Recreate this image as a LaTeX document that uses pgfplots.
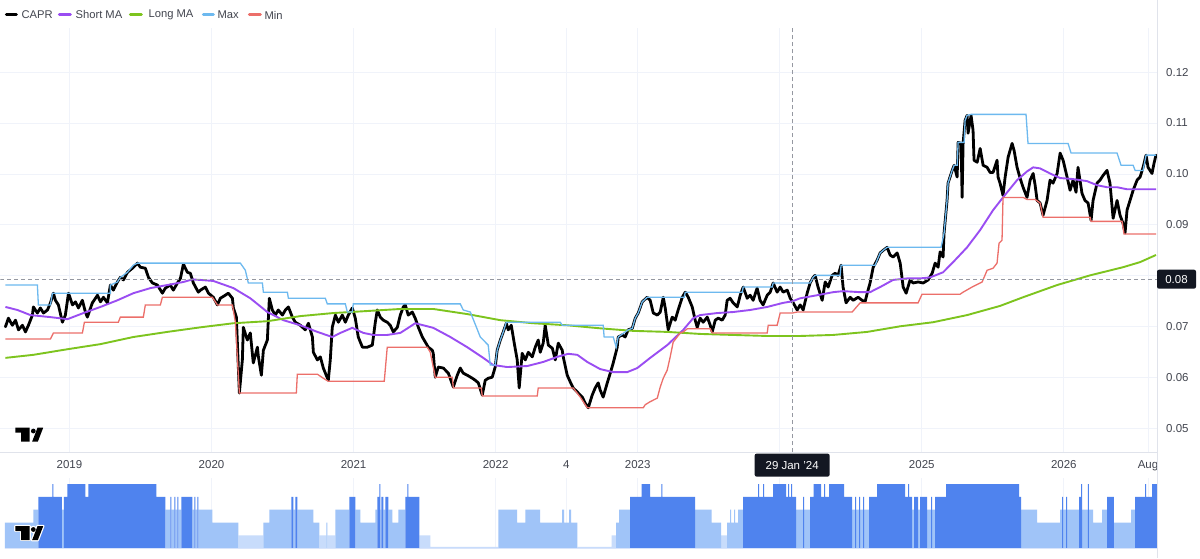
\documentclass[border=0pt]{standalone}
\usepackage{fontspec}
\setmainfont{Liberation Sans}
\usepackage{pgfplots}
\pgfplotsset{compat=1.18}
\usepackage{pgfplotstable}

\definecolor{capr}{HTML}{000000}
\definecolor{shortma}{HTML}{9A4DF2}
\definecolor{longma}{HTML}{7DC41E}
\definecolor{maxc}{HTML}{6DB9EF}
\definecolor{minc}{HTML}{EC6F6A}
\definecolor{gridc}{HTML}{F0F3FA}
\definecolor{borderc}{HTML}{E0E3EB}
\definecolor{txt}{HTML}{42454F}
\definecolor{legtxt}{HTML}{42454F}
\definecolor{barD}{HTML}{4F83EE}
\definecolor{barL}{HTML}{A0C4F8}
\definecolor{barW}{HTML}{C8DCFB}
\definecolor{tvdark}{HTML}{131722}
\definecolor{crossc}{HTML}{9598A1}

\pgfplotstableread{
x y
2018.549 0.0700
2018.570 0.0717
2018.598 0.0703
2018.620 0.0713
2018.641 0.0694
2018.669 0.0703
2018.690 0.0690
2018.711 0.0703
2018.739 0.0723
2018.746 0.0739
2018.774 0.0727
2018.795 0.0737
2018.817 0.0727
2018.845 0.0733
2018.866 0.0747
2018.887 0.0766
2018.901 0.0752
2018.922 0.0743
2018.950 0.0709
2018.971 0.0723
2018.993 0.0766
2019.021 0.0743
2019.042 0.0749
2019.063 0.0737
2019.091 0.0752
2019.112 0.0729
2019.126 0.0719
2019.161 0.0747
2019.197 0.0762
2019.218 0.0749
2019.239 0.0758
2019.267 0.0747
2019.288 0.0782
2019.309 0.0772
2019.337 0.0788
2019.358 0.0797
2019.380 0.0792
2019.408 0.0807
2019.443 0.0815
2019.478 0.0825
2019.499 0.0817
2019.534 0.0815
2019.556 0.0797
2019.584 0.0786
2019.619 0.0782
2019.654 0.0766
2019.675 0.0776
2019.710 0.0782
2019.731 0.0772
2019.760 0.0786
2019.781 0.0795
2019.802 0.0823
2019.830 0.0807
2019.851 0.0805
2019.872 0.0786
2019.907 0.0768
2019.922 0.0772
2019.957 0.0778
2019.978 0.0766
2020.013 0.0758
2020.041 0.0743
2020.062 0.0756
2020.097 0.0762
2020.118 0.0766
2020.147 0.0756
2020.154 0.0737
2020.175 0.0719
2020.182 0.0668
2020.196 0.0570
2020.217 0.0635
2020.224 0.0699
2020.252 0.0674
2020.273 0.0688
2020.294 0.0629
2020.323 0.0660
2020.330 0.0641
2020.351 0.0605
2020.365 0.0654
2020.393 0.0674
2020.407 0.0756
2020.428 0.0733
2020.449 0.0723
2020.470 0.0733
2020.499 0.0723
2020.520 0.0733
2020.541 0.0739
2020.569 0.0719
2020.590 0.0709
2020.625 0.0703
2020.660 0.0694
2020.682 0.0707
2020.710 0.0680
2020.717 0.0650
2020.745 0.0635
2020.766 0.0641
2020.787 0.0619
2020.822 0.0595
2020.836 0.0635
2020.850 0.0699
2020.872 0.0723
2020.893 0.0709
2020.921 0.0723
2020.942 0.0709
2020.963 0.0723
2020.991 0.0737
2021.012 0.0717
2021.033 0.0680
2021.062 0.0660
2021.097 0.0660
2021.132 0.0664
2021.153 0.0709
2021.167 0.0733
2021.188 0.0719
2021.209 0.0713
2021.237 0.0709
2021.258 0.0703
2021.280 0.0690
2021.308 0.0699
2021.329 0.0723
2021.350 0.0739
2021.364 0.0743
2021.385 0.0723
2021.413 0.0729
2021.434 0.0717
2021.456 0.0699
2021.484 0.0680
2021.505 0.0670
2021.526 0.0660
2021.554 0.0654
2021.561 0.0648
2021.575 0.0601
2021.596 0.0621
2021.632 0.0619
2021.667 0.0609
2021.702 0.0582
2021.730 0.0605
2021.751 0.0619
2021.772 0.0609
2021.800 0.0605
2021.836 0.0599
2021.857 0.0595
2021.878 0.0590
2021.906 0.0566
2021.927 0.0595
2021.948 0.0599
2021.976 0.0601
2021.997 0.0621
2022.011 0.0654
2022.033 0.0674
2022.054 0.0690
2022.075 0.0707
2022.089 0.0694
2022.110 0.0703
2022.131 0.0668
2022.152 0.0635
2022.166 0.0580
2022.187 0.0648
2022.209 0.0635
2022.230 0.0650
2022.258 0.0641
2022.279 0.0660
2022.300 0.0674
2022.314 0.0650
2022.335 0.0668
2022.349 0.0703
2022.371 0.0664
2022.399 0.0658
2022.420 0.0635
2022.441 0.0668
2022.469 0.0654
2022.476 0.0641
2022.504 0.0605
2022.525 0.0592
2022.546 0.0580
2022.575 0.0572
2022.610 0.0562
2022.631 0.0550
2022.652 0.0541
2022.680 0.0566
2022.701 0.0580
2022.722 0.0590
2022.736 0.0576
2022.757 0.0562
2022.786 0.0590
2022.807 0.0609
2022.828 0.0629
2022.856 0.0660
2022.863 0.0680
2022.891 0.0684
2022.912 0.0680
2022.933 0.0694
2022.962 0.0697
2022.983 0.0717
2023.004 0.0727
2023.032 0.0749
2023.067 0.0758
2023.088 0.0752
2023.110 0.0727
2023.138 0.0723
2023.159 0.0729
2023.180 0.0758
2023.194 0.0737
2023.215 0.0694
2023.243 0.0719
2023.264 0.0713
2023.285 0.0733
2023.314 0.0758
2023.335 0.0768
2023.356 0.0758
2023.384 0.0739
2023.405 0.0713
2023.419 0.0699
2023.440 0.0717
2023.461 0.0709
2023.490 0.0719
2023.511 0.0703
2023.525 0.0690
2023.546 0.0713
2023.567 0.0717
2023.595 0.0713
2023.616 0.0723
2023.630 0.0752
2023.651 0.0756
2023.672 0.0747
2023.701 0.0739
2023.722 0.0762
2023.743 0.0778
2023.771 0.0756
2023.792 0.0762
2023.813 0.0752
2023.841 0.0776
2023.862 0.0752
2023.883 0.0743
2023.912 0.0762
2023.933 0.0768
2023.954 0.0786
2023.982 0.0768
2024.003 0.0778
2024.024 0.0768
2024.053 0.0772
2024.074 0.0756
2024.095 0.0747
2024.123 0.0733
2024.144 0.0743
2024.165 0.0733
2024.193 0.0766
2024.214 0.0786
2024.235 0.0797
2024.249 0.0801
2024.270 0.0778
2024.299 0.0752
2024.320 0.0788
2024.341 0.0778
2024.369 0.0801
2024.390 0.0805
2024.411 0.0801
2024.432 0.0821
2024.446 0.0778
2024.467 0.0747
2024.496 0.0758
2024.517 0.0752
2024.552 0.0758
2024.580 0.0752
2024.601 0.0749
2024.616 0.0766
2024.636 0.0786
2024.658 0.0817
2024.686 0.0831
2024.707 0.0845
2024.728 0.0850
2024.756 0.0856
2024.777 0.0841
2024.798 0.0837
2024.827 0.0845
2024.848 0.0825
2024.869 0.0778
2024.890 0.0766
2024.918 0.0792
2024.939 0.0786
2024.974 0.0788
2025.010 0.0786
2025.045 0.0792
2025.073 0.0805
2025.094 0.0825
2025.115 0.0817
2025.129 0.0847
2025.150 0.0837
2025.157 0.0884
2025.178 0.0948
2025.185 0.0982
2025.214 0.1007
2025.228 0.1017
2025.249 0.0994
2025.256 0.1062
2025.277 0.1060
2025.284 0.0954
2025.291 0.1060
2025.305 0.1105
2025.319 0.1115
2025.326 0.1080
2025.347 0.1115
2025.361 0.1086
2025.368 0.1027
2025.390 0.1023
2025.411 0.1050
2025.432 0.1017
2025.460 0.1013
2025.481 0.1003
2025.502 0.1003
2025.530 0.1027
2025.537 0.0994
2025.551 0.0982
2025.572 0.0958
2025.587 0.0994
2025.608 0.1033
2025.636 0.1060
2025.650 0.1046
2025.671 0.1013
2025.692 0.0992
2025.713 0.0974
2025.741 0.0954
2025.763 0.0988
2025.784 0.1001
2025.798 0.0978
2025.812 0.0948
2025.833 0.0943
2025.854 0.0919
2025.882 0.0948
2025.903 0.0988
2025.924 0.0982
2025.953 0.1001
2025.974 0.1041
2025.995 0.1027
2026.023 0.0994
2026.044 0.0968
2026.065 0.0988
2026.086 0.0964
2026.100 0.1013
2026.128 0.0962
2026.149 0.0948
2026.171 0.0943
2026.192 0.0909
2026.206 0.0948
2026.234 0.0982
2026.255 0.0988
2026.276 0.0997
2026.304 0.1007
2026.325 0.0982
2026.347 0.0913
2026.375 0.0948
2026.396 0.0919
2026.417 0.0903
2026.431 0.0884
2026.445 0.0929
2026.466 0.0948
2026.488 0.0968
2026.516 0.0988
2026.537 0.0994
2026.558 0.1013
2026.579 0.1037
2026.593 0.1013
2026.621 0.1001
2026.635 0.1021
2026.649 0.1037
}\caprdata

\pgfplotstableread{
x y
2018.549 0.0739
2018.634 0.0733
2018.725 0.0723
2018.866 0.0719
2018.986 0.0715
2019.098 0.0727
2019.218 0.0739
2019.337 0.0752
2019.450 0.0766
2019.570 0.0776
2019.689 0.0782
2019.802 0.0788
2019.865 0.0793
2019.922 0.0792
2020.013 0.0790
2020.154 0.0776
2020.273 0.0756
2020.393 0.0729
2020.506 0.0713
2020.625 0.0703
2020.745 0.0690
2020.850 0.0680
2020.907 0.0688
2020.991 0.0698
2021.069 0.0688
2021.139 0.0684
2021.237 0.0684
2021.329 0.0688
2021.385 0.0698
2021.434 0.0707
2021.491 0.0703
2021.561 0.0698
2021.681 0.0680
2021.800 0.0660
2021.913 0.0639
2021.983 0.0625
2022.082 0.0621
2022.223 0.0623
2022.335 0.0631
2022.434 0.0641
2022.511 0.0647
2022.575 0.0645
2022.645 0.0631
2022.736 0.0617
2022.828 0.0611
2022.926 0.0611
2022.997 0.0619
2023.088 0.0639
2023.208 0.0664
2023.321 0.0694
2023.391 0.0717
2023.440 0.0723
2023.560 0.0727
2023.672 0.0729
2023.792 0.0733
2023.912 0.0739
2024.024 0.0747
2024.088 0.0750
2024.144 0.0756
2024.264 0.0762
2024.376 0.0768
2024.446 0.0770
2024.566 0.0768
2024.636 0.0768
2024.707 0.0778
2024.798 0.0792
2024.897 0.0795
2024.988 0.0795
2025.059 0.0797
2025.150 0.0807
2025.221 0.0827
2025.319 0.0856
2025.411 0.0890
2025.502 0.0929
2025.572 0.0954
2025.671 0.0988
2025.741 0.1005
2025.784 0.1013
2025.833 0.1011
2025.903 0.1001
2025.974 0.0992
2026.065 0.0990
2026.163 0.0986
2026.234 0.0978
2026.304 0.0974
2026.375 0.0974
2026.445 0.0970
2026.516 0.0970
2026.586 0.0970
2026.649 0.0970
}\shortdata

\pgfplotstableread{
x y
2018.549 0.0639
2018.746 0.0645
2018.986 0.0656
2019.218 0.0666
2019.450 0.0680
2019.689 0.0690
2019.922 0.0699
2020.154 0.0707
2020.393 0.0711
2020.625 0.0721
2020.857 0.0727
2021.097 0.0731
2021.329 0.0735
2021.561 0.0735
2021.800 0.0725
2022.033 0.0713
2022.265 0.0707
2022.504 0.0703
2022.736 0.0697
2022.969 0.0692
2023.208 0.0690
2023.440 0.0686
2023.672 0.0684
2023.912 0.0682
2024.144 0.0682
2024.376 0.0684
2024.616 0.0690
2024.848 0.0701
2025.080 0.0709
2025.319 0.0723
2025.551 0.0741
2025.713 0.0758
2025.953 0.0782
2026.185 0.0801
2026.417 0.0817
2026.537 0.0827
2026.649 0.0841
}\longdata

\pgfplotstableread{
x y
2018.549 0.0782
2018.774 0.0782
2018.781 0.0743
2018.866 0.0743
2018.880 0.0766
2019.288 0.0766
2019.288 0.0782
2019.337 0.0788
2019.358 0.0797
2019.408 0.0807
2019.450 0.0821
2019.478 0.0825
2020.203 0.0825
2020.238 0.0811
2020.259 0.0786
2020.358 0.0786
2020.365 0.0768
2020.534 0.0768
2020.541 0.0756
2020.801 0.0756
2020.815 0.0745
2020.942 0.0745
2020.956 0.0729
2020.991 0.0729
2020.998 0.0745
2021.751 0.0745
2021.772 0.0733
2021.822 0.0729
2021.892 0.0680
2021.948 0.0664
2021.962 0.0625
2021.997 0.0625
2022.011 0.0654
2022.033 0.0674
2022.054 0.0690
2022.075 0.0709
2022.455 0.0709
2022.469 0.0703
2022.757 0.0703
2022.764 0.0680
2022.828 0.0680
2022.849 0.0660
2022.863 0.0680
2022.933 0.0694
2022.962 0.0697
2022.983 0.0717
2023.004 0.0727
2023.032 0.0749
2023.067 0.0758
2023.328 0.0758
2023.335 0.0768
2023.736 0.0768
2023.743 0.0778
2023.947 0.0778
2023.954 0.0786
2024.214 0.0786
2024.235 0.0797
2024.249 0.0801
2024.425 0.0801
2024.432 0.0821
2024.672 0.0821
2024.686 0.0831
2024.707 0.0845
2024.728 0.0850
2024.756 0.0856
2025.136 0.0856
2025.157 0.0884
2025.178 0.0948
2025.185 0.0982
2025.214 0.1007
2025.228 0.1017
2025.249 0.1017
2025.256 0.1062
2025.298 0.1062
2025.305 0.1105
2025.319 0.1115
2025.347 0.1117
2025.734 0.1117
2025.748 0.1060
2026.030 0.1060
2026.051 0.1041
2026.375 0.1041
2026.403 0.1017
2026.488 0.1017
2026.502 0.1007
2026.558 0.1007
2026.579 0.1037
2026.649 0.1037
}\maxdata

\pgfplotstableread{
x y
2018.549 0.0676
2018.866 0.0676
2018.887 0.0688
2019.091 0.0688
2019.105 0.0709
2019.344 0.0709
2019.358 0.0719
2019.520 0.0719
2019.534 0.0743
2019.640 0.0743
2019.654 0.0758
2020.006 0.0758
2020.041 0.0743
2020.147 0.0743
2020.168 0.0709
2020.196 0.0570
2020.597 0.0570
2020.604 0.0607
2020.745 0.0607
2020.787 0.0599
2020.822 0.0593
2021.216 0.0593
2021.237 0.0660
2021.519 0.0660
2021.540 0.0650
2021.575 0.0601
2021.695 0.0601
2021.702 0.0580
2021.899 0.0580
2021.906 0.0564
2022.293 0.0564
2022.300 0.0580
2022.546 0.0580
2022.596 0.0562
2022.645 0.0541
2023.039 0.0541
2023.053 0.0547
2023.088 0.0553
2023.138 0.0560
2023.159 0.0582
2023.180 0.0599
2023.208 0.0615
2023.229 0.0641
2023.250 0.0670
2023.278 0.0680
2023.300 0.0688
2023.321 0.0690
2023.349 0.0696
2023.511 0.0696
2023.525 0.0688
2023.912 0.0688
2023.919 0.0703
2023.982 0.0703
2024.003 0.0727
2024.088 0.0727
2024.123 0.0729
2024.510 0.0729
2024.566 0.0747
2024.974 0.0747
2025.002 0.0764
2025.270 0.0764
2025.291 0.0768
2025.354 0.0778
2025.425 0.0788
2025.460 0.0811
2025.502 0.0815
2025.530 0.0825
2025.544 0.0864
2025.565 0.0870
2025.572 0.0954
2025.713 0.0954
2025.741 0.0950
2025.798 0.0950
2025.833 0.0943
2025.854 0.0915
2026.185 0.0915
2026.192 0.0907
2026.410 0.0907
2026.424 0.0882
2026.649 0.0882
}\mindata

\pgfplotstableread{
x d l w
2018.546 0 2 0
2018.746 0 3 0
2018.781 4 0 0
2018.880 5 0 0
2018.887 4 0 0
2018.947 0 3 0
2018.961 4 0 0
2018.986 5 0 0
2019.112 4 0 0
2019.133 5 0 0
2019.612 4 0 0
2019.675 0 3 0
2019.710 4 0 0
2019.717 0 3 0
2019.738 4 0 0
2019.745 0 3 0
2019.760 4 0 0
2019.767 0 3 0
2019.788 4 0 0
2019.865 0 3 0
2019.879 4 0 0
2019.886 0 3 0
2019.900 4 0 0
2019.907 0 3 0
2020.006 0 2 0
2020.189 0 0 1
2020.365 0 2 0
2020.407 0 3 0
2020.562 4 0 0
2020.576 0 3 0
2020.590 4 0 0
2020.604 0 3 0
2020.717 0 2 0
2020.759 0 0 1
2020.808 0 2 0
2020.815 0 0 1
2020.872 0 3 0
2020.970 4 0 0
2021.012 0 3 0
2021.047 0 2 0
2021.153 0 3 0
2021.167 4 0 0
2021.181 5 0 0
2021.188 0 3 0
2021.195 4 0 0
2021.209 0 3 0
2021.223 4 0 0
2021.245 0 3 0
2021.273 0 2 0
2021.315 0 3 0
2021.364 4 0 0
2021.378 5 0 0
2021.385 4 0 0
2021.463 0 0 1
2021.540 0 0 0.1
2022.019 0 3 0
2022.152 0 2 0
2022.209 0 3 0
2022.314 0 2 0
2022.469 0 3 0
2022.483 0 2 0
2022.518 0 3 0
2022.532 0 2 0
2022.575 0 0 0.1
2022.817 0 0 1
2022.849 0 2 0
2022.870 0 3 0
2022.947 4 0 0
2023.028 5 0 0
2023.088 4 0 0
2023.166 5 0 0
2023.173 4 0 0
2023.405 0 3 0
2023.521 0 2 0
2023.588 0 0 1
2023.630 0 2 0
2023.651 0 3 0
2023.658 0 2 0
2023.679 0 3 0
2023.686 0 2 0
2023.707 0 3 0
2023.743 4 0 0
2023.848 5 0 0
2023.855 4 0 0
2023.883 5 0 0
2023.890 4 0 0
2023.954 5 0 0
2024.045 4 0 0
2024.059 5 0 0
2024.066 4 0 0
2024.081 5 0 0
2024.088 4 0 0
2024.116 0 3 0
2024.165 4 0 0
2024.172 0 3 0
2024.214 4 0 0
2024.239 5 0 0
2024.292 4 0 0
2024.313 5 0 0
2024.320 4 0 0
2024.348 5 0 0
2024.453 4 0 0
2024.510 0 3 0
2024.531 4 0 0
2024.538 0 3 0
2024.559 4 0 0
2024.566 0 3 0
2024.587 4 0 0
2024.594 0 3 0
2024.629 4 0 0
2024.686 5 0 0
2024.883 4 0 0
2024.904 5 0 0
2024.911 4 0 0
2024.932 0 3 0
2024.946 4 0 0
2024.974 0 3 0
2024.988 4 0 0
2025.037 0 3 0
2025.066 4 0 0
2025.073 0 3 0
2025.094 4 0 0
2025.171 5 0 0
2025.685 4 0 0
2025.699 0 3 0
2025.812 0 2 0
2025.974 0 3 0
2025.988 4 0 0
2025.995 0 3 0
2026.016 4 0 0
2026.023 0 3 0
2026.107 4 0 0
2026.121 5 0 0
2026.128 0 3 0
2026.170 5 0 0
2026.177 0 3 0
2026.206 0 2 0
2026.269 0 3 0
2026.304 4 0 0
2026.353 0 2 0
2026.473 0 3 0
2026.502 4 0 0
2026.572 5 0 0
2026.579 4 0 0
2026.621 5 0 0
2026.656 5 0 0
}\bardata

\newcommand{\tvshapes}[3]{% x0, y0 (bottom-left), style
  \path[#3] (#1,#2+14) -- (#1+14.3,#2+14) -- (#1+14.3,#2) -- (#1+5.8,#2) -- (#1+5.8,#2+9) -- (#1,#2+9) -- cycle;
  \path[#3] (#1+17.9,#2+10.6) circle (2.4);
  \path[#3] (#1+16.7,#2) -- (#1+22.4,#2) -- (#1+27.8,#2+14) -- (#1+22.1,#2+14) -- cycle;
}

\begin{document}
\begin{tikzpicture}[x=1pt,y=1pt]
\path[fill=white] (0,0) rectangle (1200,558);

% ---------- main pane ----------
\begin{axis}[
  at={(0pt,106pt)}, anchor=south west,
  scale only axis, width=1157pt, height=424pt,
  xmin=2018.514, xmax=2026.656, ymin=0.0454, ymax=0.1286,
  axis line style={draw=none},
  xtick={2019,2020,2021,2022,2022.497,2023,2024,2025,2026,2026.593},
  xticklabels={2019,2020,2021,2022,4,2023,{},2025,2026,Aug},
  ytick={0.05,0.06,0.07,0.08,0.09,0.10,0.11,0.12},
  yticklabels={0.05,0.06,0.07,{},0.09,0.10,0.11,0.12},
  yticklabel pos=right,
  grid=major, major grid style={draw=gridc, line width=0.9pt},
  major tick length=0pt,
  tick label style={font=\fontsize{11.5}{13}\selectfont, text=txt},
  xticklabel style={anchor=north, inner sep=0pt, yshift=-8.5pt},
  yticklabel style={anchor=west, inner sep=0pt, xshift=9pt},
]
\addplot[capr, line width=2.8pt, line join=round, line cap=round] table[x=x,y=y] {\caprdata};
\addplot[shortma, line width=1.9pt, line join=round] table[x=x,y=y] {\shortdata};
\addplot[longma, line width=1.9pt, line join=round] table[x=x,y=y] {\longdata};
\addplot[maxc, line width=1.3pt] table[x=x,y=y] {\maxdata};
\addplot[minc, line width=1.3pt] table[x=x,y=y] {\mindata};
\draw[crossc, line width=0.9pt, dash pattern=on 4pt off 3pt] (axis cs:2024.088,0.0454) -- (axis cs:2024.088,0.1286);
\draw[crossc, line width=0.9pt, dash pattern=on 4pt off 3pt] (axis cs:2018.514,0.07935) -- (axis cs:2026.656,0.07935);
\end{axis}

% ---------- lower pane ----------
\begin{axis}[
  at={(0pt,10pt)}, anchor=south west,
  scale only axis, width=1157pt, height=70pt,
  xmin=2018.514, xmax=2026.656, ymin=0, ymax=5.47,
  axis line style={draw=none},
  xtick={2019,2020,2021,2022,2022.497,2023,2024,2025,2026,2026.593},
  xticklabels={}, ytick=\empty,
  xmajorgrids, major grid style={draw=gridc, line width=0.9pt},
  major tick length=0pt,
]
\addplot[const plot, fill=barW, draw=none] table[x=x,y=w] {\bardata} \closedcycle;
\addplot[const plot, fill=barL, draw=none] table[x=x,y=l] {\bardata} \closedcycle;
\addplot[const plot, fill=barD, draw=none] table[x=x,y=d] {\bardata} \closedcycle;
\end{axis}

% borders
\draw[borderc, line width=0.9pt] (0,106) -- (1157,106);
\draw[borderc, line width=0.6pt] (1157,0) -- (1157,558);

% TradingView marks
\tvshapes{15}{116.5}{fill=black}
\tvshapes{15}{18}{draw=white, line width=2.5pt, line join=round}
\tvshapes{15}{18}{fill=black}

% crosshair labels
\node[fill=tvdark, text=white, rounded corners=2pt, minimum width=75pt, minimum height=23pt, inner sep=0pt,
      font=\fontsize{11.5}{13}\selectfont] at (792,93) {29 Jan '24};
\node[fill=tvdark, text=white, rounded corners=2pt, minimum width=39pt, minimum height=19pt, inner sep=0pt,
      font=\fontsize{11.5}{13}\selectfont] at (1176.5,279) {0.08};

% legend
\begin{scope}[font=\fontsize{11.2}{13}\selectfont]
\draw[capr, line width=3pt, line cap=round] (6,543.3) -- (16,543.3);
\node[anchor=west, inner sep=0pt, text=legtxt] at (21,543.3) {CAPR};
\draw[shortma, line width=3pt, line cap=round] (59,543.3) -- (70,543.3);
\node[anchor=west, inner sep=0pt, text=legtxt] at (75,543.3) {Short MA};
\draw[longma, line width=3pt, line cap=round] (130,543.3) -- (141,543.3);
\node[anchor=west, inner sep=0pt, text=legtxt] at (148,543.3) {Long MA};
\draw[maxc, line width=3pt, line cap=round] (203,543.3) -- (213,543.3);
\node[anchor=west, inner sep=0pt, text=legtxt] at (217,543.3) {Max};
\draw[minc, line width=3pt, line cap=round] (249,543.3) -- (260,543.3);
\node[anchor=west, inner sep=0pt, text=legtxt] at (264,543.3) {Min};
\end{scope}
\end{tikzpicture}
\end{document}
